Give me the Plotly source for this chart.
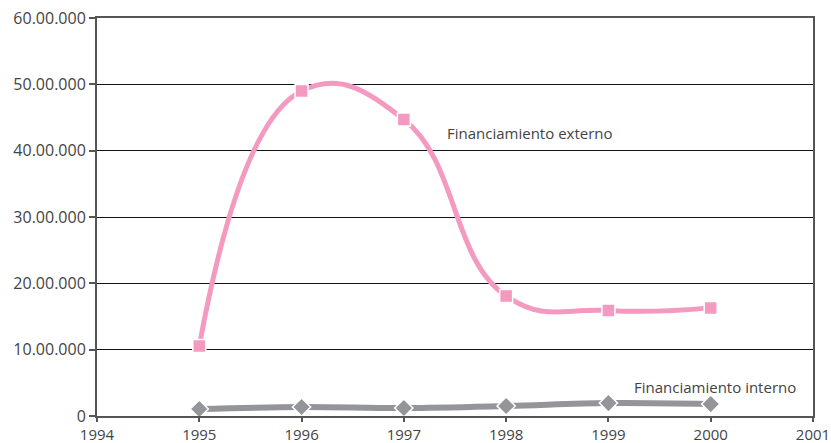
import plotly.graph_objects as go

years = [1995, 1996, 1997, 1998, 1999, 2000]
externo = [10_550_000, 49_000_000, 44_700_000, 18_100_000, 15_900_000, 16_300_000]
interno = [1_050_000, 1_350_000, 1_200_000, 1_500_000, 1_950_000, 1_800_000]
y_ticks = [0, 10_000_000, 20_000_000, 30_000_000, 40_000_000, 50_000_000, 60_000_000]
y_labels = ["0", "10.00.000", "20.00.000", "30.00.000", "40.00.000", "50.00.000", "60.00.000"]
x_ticks = [1994, 1995, 1996, 1997, 1998, 1999, 2000, 2001]

FONT = "Open Sans, sans-serif"
TXT = "#444444"

fig = go.Figure()
fig.add_trace(go.Scatter(
    x=years, y=interno, mode="lines+markers",
    line=dict(color="#939598", width=6, shape="spline", smoothing=1),
    marker=dict(symbol="diamond", size=14, color="#939598", line=dict(color="white", width=1.5)),
    showlegend=False, cliponaxis=False,
))
fig.add_trace(go.Scatter(
    x=years, y=externo, mode="lines+markers",
    line=dict(color="#F49AC1", width=5, shape="spline", smoothing=1.3),
    marker=dict(symbol="square", size=13, color="#F49AC1", line=dict(color="white", width=1.5)),
    showlegend=False, cliponaxis=False,
))

fig.add_annotation(x=1997.4, y=42_600_000, text="Financiamiento externo", showarrow=False,
                   xanchor="left", yanchor="middle", font=dict(family=FONT, size=15, color=TXT))
fig.add_annotation(x=1999.23, y=4_300_000, text="Financiamiento interno", showarrow=False,
                   xanchor="left", yanchor="middle", font=dict(family=FONT, size=15, color=TXT))

fig.update_layout(
    width=831, height=443,
    margin=dict(l=97, r=18, t=18, b=27),
    paper_bgcolor="white", plot_bgcolor="white",
    font=dict(family=FONT, size=16, color=TXT),
    xaxis=dict(range=[1994, 2001], tickvals=x_ticks, ticktext=[str(v) for v in x_ticks],
               tickfont=dict(size=15),
               showgrid=False, zeroline=False, showline=True, linecolor="#555555", linewidth=2,
               mirror=True, ticks="outside", ticklen=4, tickcolor="#555555", tickwidth=1.5,
               automargin=False, ticklabeloverflow="allow"),
    yaxis=dict(range=[0, 60_000_000], tickvals=y_ticks, ticktext=y_labels,
               showgrid=True, gridcolor="#111111", gridwidth=1.3, zeroline=False,
               showline=True, linecolor="#555555", linewidth=2, mirror=True,
               ticks="outside", ticklen=6, tickcolor="#555555", tickwidth=1.5,
               automargin=False, ticklabeloverflow="allow"),
)

fig.write_html("out.html", config={"displayModeBar": False},
               post_script="document.body.style.margin='0';document.body.style.overflow='hidden';")
